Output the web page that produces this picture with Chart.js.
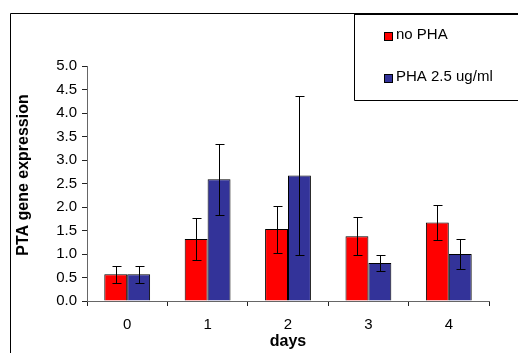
<!DOCTYPE html>
<html>
<head>
<meta charset="utf-8">
<script src="https://cdn.jsdelivr.net/npm/chart.js@4/dist/chart.umd.min.js"></script>
<style>
  html, body { margin: 0; padding: 0; background: #fff; }
  canvas { display: block; }
</style>
</head>
<body>
<canvas id="c" width="518" height="353"></canvas>
<script>
// Days after stimulation
const days = ['0', '1', '2', '3', '4'];

// Mean PTA expression and standard error, untreated cells
const noPha = [0.57, 1.32, 1.53, 1.38, 1.67];
const noPhaErr = [0.18, 0.44, 0.50, 0.40, 0.37];

// Mean PTA expression and standard error, PHA-treated cells
const pha = [0.57, 2.59, 2.67, 0.81, 1.00];
const phaErr = [0.18, 0.75, 1.70, 0.17, 0.31];

const seriesNames = ['no PHA', 'PHA 2.5 ug/ml'];
const yTicks = [0, 0.5, 1, 1.5, 2, 2.5, 3, 3.5, 4, 4.5, 5];

const FONT = "'Liberation Sans', Arial, sans-serif";

// Outer frame drawn behind everything else
const framePlugin = {
  id: 'frame',
  beforeDraw(chart) {
    const ctx = chart.ctx;
    ctx.save();
    ctx.fillStyle = '#fff';
    ctx.fillRect(0, 0, chart.width, chart.height);
    ctx.strokeStyle = '#000';
    ctx.lineWidth = 1;
    ctx.beginPath();
    ctx.moveTo(10.5, chart.height + 2);
    ctx.lineTo(10.5, 13.5);
    ctx.lineTo(chart.width + 2, 13.5);
    ctx.stroke();
    ctx.restore();
  }
};

// Error bars, the rotated y-axis title and the boxed legend
const overlayPlugin = {
  id: 'overlay',
  afterDatasetsDraw(chart) {
    const ctx = chart.ctx;
    const y = chart.scales.y;
    ctx.save();
    ctx.strokeStyle = '#000';
    ctx.lineWidth = 1;
    chart.data.datasets.forEach((ds, i) => {
      const meta = chart.getDatasetMeta(i);
      meta.data.forEach((bar, j) => {
        const v = ds.data[j];
        const e = ds.errors[j];
        const x = Math.round(bar.x) + 0.5;
        const yTop = Math.round(y.getPixelForValue(v + e)) + 0.5;
        const yBot = Math.round(y.getPixelForValue(v - e)) + 0.5;
        ctx.beginPath();
        ctx.moveTo(x, yTop); ctx.lineTo(x, yBot);
        ctx.moveTo(x - 4, yTop); ctx.lineTo(x + 5, yTop);
        ctx.moveTo(x - 4, yBot); ctx.lineTo(x + 5, yBot);
        ctx.stroke();
      });
    });
    ctx.restore();
  },
  afterDraw(chart) {
    const ctx = chart.ctx;
    ctx.save();
    // y-axis title
    ctx.translate(24, 175);
    ctx.rotate(-Math.PI / 2);
    ctx.font = 'bold 16px ' + FONT;
    ctx.fillStyle = '#000';
    ctx.textAlign = 'center';
    ctx.textBaseline = 'middle';
    ctx.fillText('PTA gene expression', 0, 0);
    ctx.restore();

    // legend box
    ctx.save();
    ctx.fillStyle = '#fff';
    ctx.fillRect(354, 13, chart.width, 87);
    ctx.strokeStyle = '#000';
    ctx.lineWidth = 1;
    ctx.beginPath();
    ctx.moveTo(chart.width + 2, 100.5);
    ctx.lineTo(354.5, 100.5);
    ctx.lineTo(354.5, 13.5);
    ctx.lineTo(chart.width + 2, 13.5);
    ctx.stroke();
    ctx.font = '15px ' + FONT;
    ctx.textBaseline = 'middle';
    ctx.textAlign = 'left';
    const rows = [35, 77];
    chart.data.datasets.forEach((ds, i) => {
      const cy = rows[i];
      ctx.fillStyle = ds.backgroundColor;
      ctx.fillRect(384, cy - 3, 9, 9);
      ctx.strokeStyle = '#000';
      ctx.strokeRect(384.5, cy - 2.5, 8, 8);
      ctx.fillStyle = '#000';
      ctx.fillText(ds.label, 396, cy);
    });
    // thicker top edge where frame and legend box meet
    ctx.fillStyle = '#000';
    ctx.fillRect(354, 13, chart.width, 2);
    ctx.restore();
  }
};

new Chart(document.getElementById('c'), {
  type: 'bar',
  data: {
    labels: days,
    datasets: [
      {
        label: seriesNames[0],
        data: noPha,
        errors: noPhaErr,
        backgroundColor: '#ff0000',
        borderColor: '#000',
        borderWidth: 1,
        categoryPercentage: 0.57,
        barPercentage: 1.0
      },
      {
        label: seriesNames[1],
        data: pha,
        errors: phaErr,
        backgroundColor: '#333399',
        borderColor: '#000',
        borderWidth: 1,
        categoryPercentage: 0.57,
        barPercentage: 1.0
      }
    ]
  },
  options: {
    responsive: false,
    animation: false,
    devicePixelRatio: 1,
    layout: { padding: { top: 66, right: 29, left: 0, bottom: 0 } },
    plugins: {
      legend: { display: false },
      tooltip: { enabled: false }
    },
    scales: {
      x: {
        offset: true,
        grid: {
          offset: true,
          drawOnChartArea: false,
          drawTicks: true,
          tickLength: 5,
          color: '#222'
        },
        border: { color: '#666', width: 1 },
        ticks: {
          font: { family: FONT, size: 15 },
          color: '#000',
          padding: 10
        },
        title: {
          display: true,
          text: 'days',
          font: { family: FONT, size: 16, weight: 'bold' },
          color: '#000',
          padding: { top: 0, bottom: 2 }
        },
        afterFit(scale) { scale.height = 52; }
      },
      y: {
        min: 0,
        max: 5,
        afterBuildTicks(scale) {
          scale.ticks = yTicks.map(v => ({ value: v }));
        },
        grid: {
          drawOnChartArea: false,
          drawTicks: true,
          tickLength: 5,
          color: '#222'
        },
        border: { color: '#666', width: 1 },
        ticks: {
          font: { family: FONT, size: 15 },
          color: '#000',
          padding: 5,
          callback: v => Number(v).toFixed(1)
        },
        afterFit(scale) { scale.width = 87; }
      }
    }
  },
  plugins: [framePlugin, overlayPlugin]
});
</script>
</body>
</html>
